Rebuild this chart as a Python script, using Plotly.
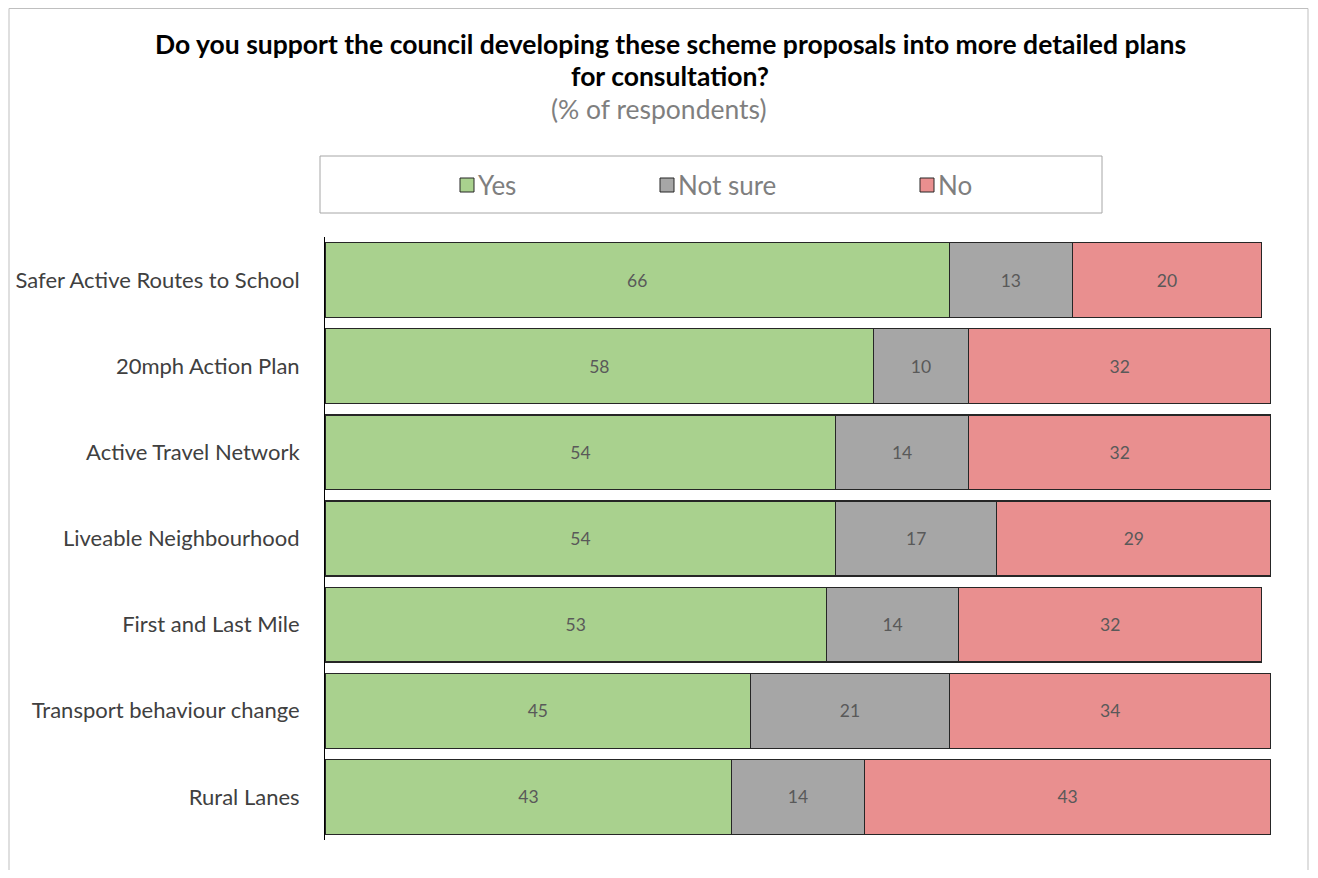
import plotly.graph_objects as go

categories = ["Safer Active Routes to School", "20mph Action Plan", "Active Travel Network",
              "Liveable Neighbourhood", "First and Last Mile", "Transport behaviour change", "Rural Lanes"]
yes = [66, 58, 54, 54, 53, 45, 43]
not_sure = [13, 10, 14, 17, 14, 21, 14]
no = [20, 32, 32, 29, 32, 34, 43]

series = [("Yes", yes, "#a9d18e"), ("Not sure", not_sure, "#a6a6a6"), ("No", no, "#e98f8f")]

# page body has an 8px margin; work in screen pixels and shift
OFF = 8
W, H = 1318 - OFF, 878 - 2 * OFF
PL, PR, PT, PB = 325, 1271, 237, 840  # plot area in screen pixels
ML, MR, MT, MB = PL - OFF, W - (PR - OFF), PT - OFF, H - (PB - OFF)
PW, PH = W - ML - MR, H - MT - MB

def px(x):
    return (x - OFF - ML) / PW

def py(y):
    return (H - MB - (y - OFF)) / PH

FONT = "Lato"

fig = go.Figure()
for name, vals, col in series:
    fig.add_trace(go.Bar(
        y=categories, x=vals, name=name, orientation="h",
        marker=dict(color=col, line=dict(color="#262626", width=1.3)),
        text=[str(v) for v in vals], textposition="inside", insidetextanchor="middle",
        textfont=dict(family=FONT, size=17.5, color="#595959"),
        showlegend=False, hoverinfo="x+y+name",
    ))

shapes = [
    dict(type="rect", xref="paper", yref="paper", x0=px(9), x1=px(1308), y0=py(8.5), y1=py(900),
         line=dict(color="#bfbfbf", width=1), layer="below"),
    dict(type="rect", xref="paper", yref="paper", x0=px(320), x1=px(1102), y0=py(156), y1=py(213),
         line=dict(color="#a6a6a6", width=1)),
]
annotations = [
    dict(text="<b>Do you support the council developing these scheme proposals into more detailed plans</b>",
         xref="paper", yref="paper", x=px(670), y=py(44), xanchor="center", yanchor="middle",
         showarrow=False, font=dict(family=FONT, size=26.5, color="#000000")),
    dict(text="<b>for consultation?</b>",
         xref="paper", yref="paper", x=px(670), y=py(76), xanchor="center", yanchor="middle",
         showarrow=False, font=dict(family=FONT, size=26.5, color="#000000")),
    dict(text="(% of respondents)",
         xref="paper", yref="paper", x=px(659), y=py(109), xanchor="center", yanchor="middle",
         showarrow=False, font=dict(family=FONT, size=26.5, color="#7f7f7f")),
]
leg_x = [460, 660, 920]
for (name, vals, col), lx in zip(series, leg_x):
    shapes.append(dict(type="rect", xref="paper", yref="paper", x0=px(lx), x1=px(lx + 14),
                       y0=py(192), y1=py(178), fillcolor=col, line=dict(color="#262626", width=1)))
    annotations.append(dict(text=name, xref="paper", yref="paper", x=px(lx + 16), y=py(185),
                            xanchor="left", yanchor="middle", showarrow=False,
                            font=dict(family=FONT, size=26, color="#7f7f7f")))

fig.update_layout(
    width=W, height=H, barmode="stack", bargap=0.13,
    margin=dict(l=ML, r=MR, t=MT, b=MB, autoexpand=False),
    paper_bgcolor="white", plot_bgcolor="white",
    shapes=shapes, annotations=annotations,
    xaxis=dict(range=[0, 100], visible=False, fixedrange=True),
    yaxis=dict(autorange="reversed", showline=True, linecolor="#000000", linewidth=1,
               ticks="", showgrid=False, ticklabelstandoff=20,
               tickfont=dict(family=FONT, size=22, color="#404040")),
    font=dict(family=FONT),
)

fig.write_html("out.html")
